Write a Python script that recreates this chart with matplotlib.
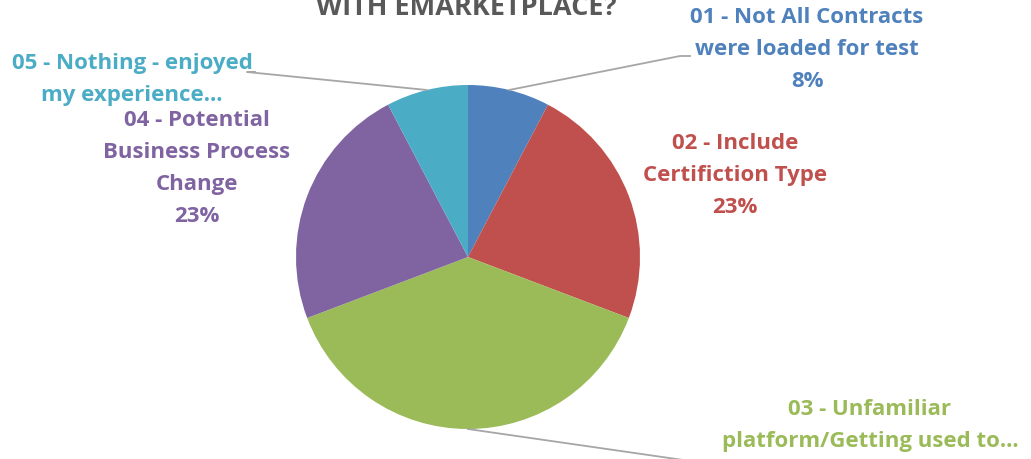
import matplotlib.pyplot as plt
import numpy as np
from matplotlib.lines import Line2D

# survey answers (counts) -> shares of the pie
labels = ["01 - Not All Contracts\nwere loaded for test",
          "02 - Include\nCertifiction Type",
          "03 - Unfamiliar\nplatform/Getting used to…",
          "04 - Potential\nBusiness Process\nChange",
          "05 - Nothing - enjoyed\nmy experience…"]
counts = [1, 3, 5, 3, 1]
colors = ["#4F81BD", "#C0504D", "#9BBB59", "#8064A2", "#4BACC6"]
show_pct = [True, True, True, True, False]
title = "WITH EMARKETPLACE?"

W, H = 1031, 460
plt.rcParams['font.family'] = ['Open Sans', 'DejaVu Sans']

def px(x, y):
    return x / W, 1 - y / H

fig = plt.figure(figsize=(W / 100, H / 100), dpi=100)

# pie axes: centre (468, 258), radius 172 px
cx, cy, r = 468, 258, 172
ax = fig.add_axes([(cx - r) / W, (H - cy - r) / H, 2 * r / W, 2 * r / H])
wedges, _ = ax.pie(counts, colors=colors, startangle=90, counterclock=False,
                   radius=1, wedgeprops=dict(linewidth=0))
ax.set_xlim(-1, 1)
ax.set_ylim(-1, 1)
ax.axis('off')

fig.text(*px(466, 15), title, ha='center', va='baseline', fontsize=19.5,
         fontweight='bold', color='#595959')

# label positions (centre x, first line centre y) and leader line end points
label_pos = [(807, 17), (735, 143), (870, 409), (197, 120), (132, 63)]
leaders = {0: [(690, 57), (680, 57)],
           2: [(690, 462)],
           4: [(255, 73), (247, 73)]}

total = sum(counts)
for i, (lab, val) in enumerate(zip(labels, counts)):
    txt = lab
    if show_pct[i]:
        txt += "\n%d%%" % round(100 * val / total)
    x, y = label_pos[i]
    fig.text(*px(x, y - 10), txt, ha='center', va='top',
             fontsize=16, fontweight='bold', color=colors[i],
             linespacing=1.68)

# leader lines from wedge mid points
for i, pts in leaders.items():
    w = wedges[i]
    mid = np.deg2rad((w.theta1 + w.theta2) / 2)
    ex, ey = ax.transData.transform((np.cos(mid), np.sin(mid)))
    xs = [ex / W] + [px(*p)[0] for p in pts[::-1]]
    ys = [ey / H] + [px(*p)[1] for p in pts[::-1]]
    fig.add_artist(Line2D(xs, ys, color='#A6A6A6', lw=1.3,
                          transform=fig.transFigure))

plt.savefig("out.png", dpi=100)
